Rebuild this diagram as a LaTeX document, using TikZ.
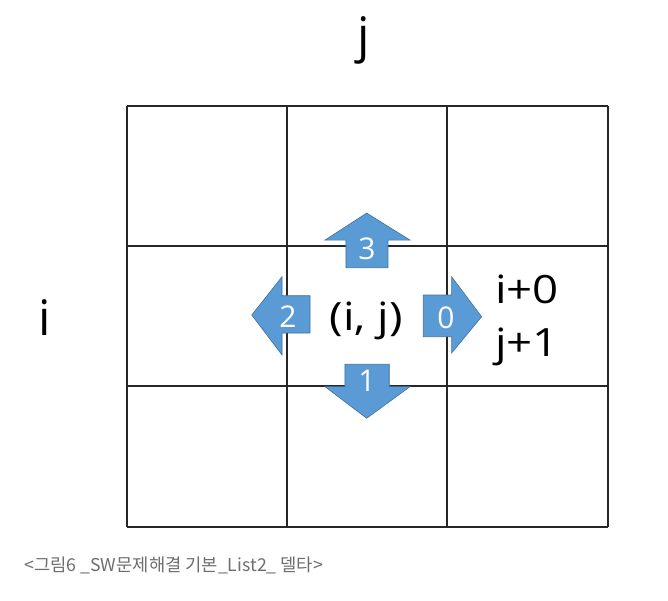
\documentclass[tikz,border=0pt]{standalone}
\usepackage{fontspec}
\setmainfont{Open Sans}
\newfontfamily\widefont[FakeStretch=1.17]{Open Sans}
\newfontfamily\krfont{Noto Sans CJK KR}
\definecolor{arrowblue}{HTML}{5B9BD5}
\definecolor{arrowedge}{HTML}{41719C}
\definecolor{captiongray}{HTML}{6E6E6E}

\begin{document}
\begin{tikzpicture}[x=1pt,y=-1pt,
  gridline/.style={draw=black!85,line width=1.6pt},
  dirarrow/.style={fill=arrowblue,draw=arrowedge,line width=0.6pt,line join=miter},
  dirnum/.style={text=white,font=\fontsize{30}{30}\selectfont,inner sep=0pt},
  bigtext/.style={font=\widefont\fontsize{39}{39}\selectfont,inner sep=0pt},
  axistext/.style={font=\fontsize{49}{49}\selectfont,inner sep=0pt}]
\filldraw[color=white] (0,0) rectangle (668,600);
% Drawing grid
\foreach \x in {127,287,447,608}
  \draw[gridline] (\x,106) -- (\x,527);
\foreach \y in {106,246,386,527}
  \draw[gridline] (127,\y) -- (608,\y);
% Done with grid; drawing labels
\node[axistext,anchor=base] (jlabel) at (364,52) {j};
\node[axistext,anchor=base] (ilabel) at (45,335) {i};
\node[bigtext,anchor=base] (cell) at (366.5,330) {(i, j)};
\node[bigtext,anchor=base west] (idelta) at (495,303) {i+0};
\node[bigtext,anchor=base west] (jdelta) at (495,357) {j+1};
% Done with labels; drawing arrows
% Arrow 3: up
\draw[dirarrow] (346,267.7) -- (346,240) -- (325,240) -- (366.7,213) -- (410,240) -- (388,240) -- (388,267.7) -- cycle;
\node[dirnum] (up) at (367,249) {3};
% Arrow 1: down
\draw[dirarrow] (345,364.3) -- (389.3,364.3) -- (389.3,386.7) -- (410,386.7) -- (366.7,418.3) -- (325,386.7) -- (345,386.7) -- cycle;
\node[dirnum] (down) at (367,381) {1};
% Arrow 2: left
\draw[dirarrow] (310,295.7) -- (310,333) -- (282,333) -- (282,355) -- (251.7,315) -- (282,276.7) -- (282,295.7) -- cycle;
\node[dirnum] (left) at (288,317) {2};
% Arrow 0: right
\draw[dirarrow] (423.3,295) -- (451.7,295) -- (451.7,276.7) -- (481.7,316.7) -- (451.7,353) -- (451.7,336.7) -- (423.3,336.7) -- cycle;
\node[dirnum] (right) at (446,318) {0};
% Done with arrows; drawing caption
\node[font=\krfont\fontsize{17.7}{17.7}\selectfont,text=captiongray,anchor=base west,inner sep=0pt] (caption) at (24,572) {<그림6 \_SW문제해결 기본\_List2\_ 델타>};
\end{tikzpicture}
\end{document}
